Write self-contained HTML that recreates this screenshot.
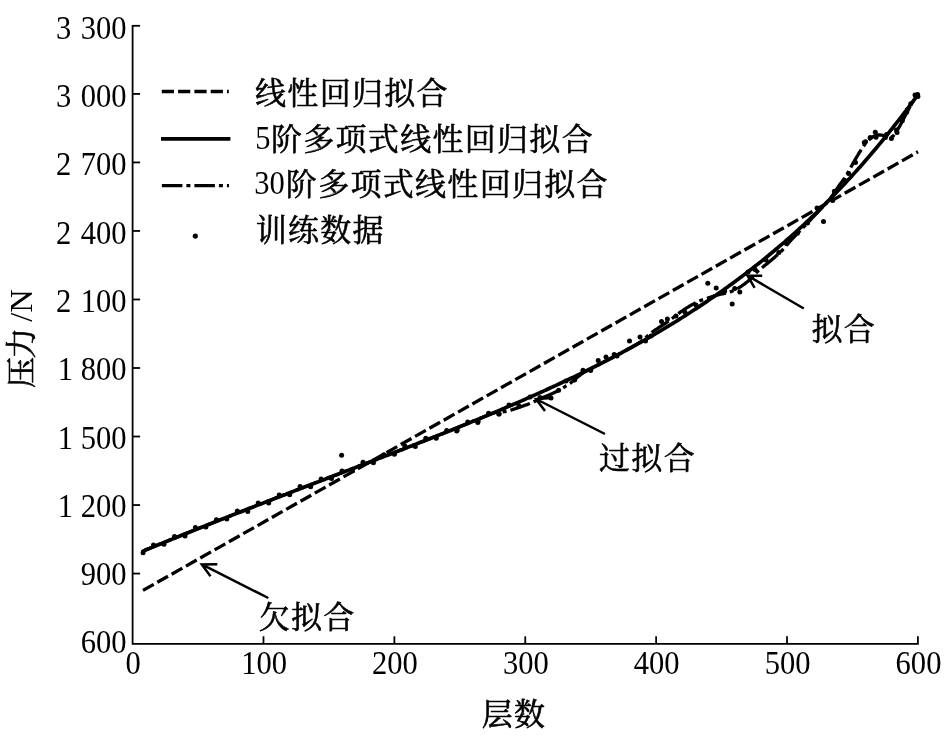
<!DOCTYPE html>
<html><head><meta charset="utf-8"><title>chart</title>
<style>html,body{margin:0;padding:0;background:#fff;}body{width:950px;height:740px;overflow:hidden;font-family:"Liberation Serif",serif;}svg{display:block;will-change:transform}</style>
</head><body><svg role="img" aria-label="拟合对比图" width="950" height="740" viewBox="0 0 950 740" font-family="Liberation Serif, serif" fill="#000"><g stroke="#000" stroke-width="1.8" fill="none" stroke-linecap="butt"><path d="M132.6 24.900000000000002 V643.8 H918.8" stroke-linejoin="miter"/><path d="M132.6 25.80 h7.5"/><path d="M132.6 93.92 h7.5"/><path d="M132.6 162.44 h7.5"/><path d="M132.6 230.96 h7.5"/><path d="M132.6 299.48 h7.5"/><path d="M132.6 368.00 h7.5"/><path d="M132.6 436.52 h7.5"/><path d="M132.6 505.04 h7.5"/><path d="M132.6 573.56 h7.5"/><path d="M263.48 643.8 v-7.5"/><path d="M394.37 643.8 v-7.5"/><path d="M525.25 643.8 v-7.5"/><path d="M656.13 643.8 v-7.5"/><path d="M787.02 643.8 v-7.5"/><path d="M917.90 643.8 v-7.5"/></g><text transform="translate(126.50 653.30) scale(0.926 1)" text-anchor="end" font-size="33">600</text><text transform="translate(126.50 585.04) scale(0.926 1)" text-anchor="end" font-size="33">900</text><text transform="translate(126.50 516.78) scale(0.926 1)" text-anchor="end" font-size="33">1 <tspan dx="0.0">200</tspan></text><text transform="translate(126.50 448.52) scale(0.926 1)" text-anchor="end" font-size="33">1 <tspan dx="0.0">500</tspan></text><text transform="translate(126.50 380.26) scale(0.926 1)" text-anchor="end" font-size="33">1 <tspan dx="0.0">800</tspan></text><text transform="translate(126.50 312.00) scale(0.926 1)" text-anchor="end" font-size="33">2 <tspan dx="1.8">100</tspan></text><text transform="translate(126.50 243.74) scale(0.926 1)" text-anchor="end" font-size="33">2 <tspan dx="1.8">400</tspan></text><text transform="translate(126.50 175.48) scale(0.926 1)" text-anchor="end" font-size="33">2 <tspan dx="1.8">700</tspan></text><text transform="translate(126.50 107.22) scale(0.926 1)" text-anchor="end" font-size="33">3 <tspan dx="1.8">000</tspan></text><text transform="translate(126.50 38.96) scale(0.926 1)" text-anchor="end" font-size="33">3 <tspan dx="1.8">300</tspan></text><text transform="translate(133.20 673.80) scale(0.926 1)" text-anchor="middle" font-size="33">0</text><text transform="translate(264.08 673.80) scale(0.926 1)" text-anchor="middle" font-size="33">100</text><text transform="translate(394.97 673.80) scale(0.926 1)" text-anchor="middle" font-size="33">200</text><text transform="translate(525.85 673.80) scale(0.926 1)" text-anchor="middle" font-size="33">300</text><text transform="translate(656.73 673.80) scale(0.926 1)" text-anchor="middle" font-size="33">400</text><text transform="translate(787.62 673.80) scale(0.926 1)" text-anchor="middle" font-size="33">500</text><text transform="translate(918.50 673.80) scale(0.926 1)" text-anchor="middle" font-size="33">600</text><g fill="none" stroke="#000" stroke-width="3.3"><path d="M143 590.4 L918 151.8" stroke-dasharray="12.3 4.155"/><polyline points="143.0,551.1 144.0,550.7 145.0,550.3 146.0,549.8 147.0,549.4 148.0,549.0 149.0,548.6 150.0,548.2 151.0,547.8 152.0,547.4 153.0,547.0 154.0,546.6 155.0,546.1 156.0,545.7 157.0,545.3 158.0,544.9 159.0,544.5 160.0,544.1 161.0,543.7 162.0,543.3 163.0,542.9 164.0,542.5 165.0,542.0 166.0,541.6 167.0,541.2 168.0,540.8 169.0,540.4 170.0,540.0 171.0,539.6 172.0,539.2 173.0,538.8 174.0,538.4 175.0,538.0 176.0,537.6 177.0,537.2 178.0,536.8 179.0,536.4 180.0,536.0 181.0,535.5 182.0,535.1 183.0,534.7 184.0,534.3 185.0,533.9 186.0,533.5 187.0,533.1 188.0,532.7 189.0,532.3 190.0,531.9 191.0,531.5 192.0,531.1 193.0,530.7 194.0,530.3 195.0,529.9 196.0,529.5 197.0,529.1 198.0,528.7 199.0,528.3 200.0,527.9 201.0,527.5 202.0,527.1 203.0,526.7 204.0,526.3 205.0,525.9 206.0,525.5 207.0,525.1 208.0,524.7 209.0,524.3 210.0,523.9 211.0,523.5 212.0,523.1 213.0,522.7 214.0,522.3 215.0,521.9 216.0,521.5 217.0,521.1 218.0,520.7 219.0,520.3 220.0,519.9 221.0,519.5 222.0,519.1 223.0,518.8 224.0,518.4 225.0,518.0 226.0,517.6 227.0,517.2 228.0,516.8 229.0,516.4 230.0,516.0 231.0,515.6 232.0,515.2 233.0,514.8 234.0,514.4 235.0,514.0 236.0,513.6 237.0,513.2 238.0,512.8 239.0,512.4 240.0,512.1 241.0,511.7 242.0,511.3 243.0,510.9 244.0,510.5 245.0,510.1 246.0,509.7 247.0,509.3 248.0,508.9 249.0,508.5 250.0,508.1 251.0,507.7 252.0,507.4 253.0,507.0 254.0,506.6 255.0,506.2 256.0,505.8 257.0,505.4 258.0,505.0 259.0,504.6 260.0,504.2 261.0,503.8 262.0,503.5 263.0,503.1 264.0,502.7 265.0,502.3 266.0,501.9 267.0,501.5 268.0,501.1 269.0,500.7 270.0,500.4 271.0,500.0 272.0,499.6 273.0,499.2 274.0,498.8 275.0,498.4 276.0,498.0 277.0,497.6 278.0,497.3 279.0,496.9 280.0,496.5 281.0,496.1 282.0,495.7 283.0,495.3 284.0,494.9 285.0,494.5 286.0,494.2 287.0,493.8 288.0,493.4 289.0,493.0 290.0,492.6 291.0,492.2 292.0,491.8 293.0,491.5 294.0,491.1 295.0,490.7 296.0,490.3 297.0,489.9 298.0,489.5 299.0,489.1 300.0,488.8 301.0,488.4 302.0,488.0 303.0,487.6 304.0,487.2 305.0,486.8 306.0,486.5 307.0,486.1 308.0,485.7 309.0,485.3 310.0,484.9 311.0,484.5 312.0,484.2 313.0,483.8 314.0,483.4 315.0,483.0 316.0,482.6 317.0,482.2 318.0,481.8 319.0,481.5 320.0,481.1 321.0,480.7 322.0,480.3 323.0,479.9 324.0,479.5 325.0,479.2 326.0,478.8 327.0,478.4 328.0,478.0 329.0,477.6 330.0,477.2 331.0,476.9 332.0,476.5 333.0,476.1 334.0,475.7 335.0,475.3 336.0,475.0 337.0,474.6 338.0,474.2 339.0,473.8 340.0,473.4 341.0,473.0 342.0,472.7 343.0,472.3 344.0,471.9 345.0,471.5 346.0,471.1 347.0,470.7 348.0,470.4 349.0,470.0 350.0,469.6 351.0,469.2 352.0,468.8 353.0,468.4 354.0,468.1 355.0,467.7 356.0,467.3 357.0,466.9 358.0,466.5 359.0,466.1 360.0,465.8 361.0,465.4 362.0,465.0 363.0,464.6 364.0,464.2 365.0,463.8 366.0,463.4 367.0,463.1 368.0,462.7 369.0,462.3 370.0,461.9 371.0,461.5 372.0,461.1 373.0,460.8 374.0,460.4 375.0,460.0 376.0,459.6 377.0,459.2 378.0,458.8 379.0,458.5 380.0,458.1 381.0,457.7 382.0,457.3 383.0,456.9 384.0,456.5 385.0,456.1 386.0,455.8 387.0,455.4 388.0,455.0 389.0,454.6 390.0,454.2 391.0,453.8 392.0,453.4 393.0,453.0 394.0,452.7 395.0,452.3 396.0,451.9 397.0,451.5 398.0,451.1 399.0,450.7 400.0,450.3 401.0,449.9 402.0,449.6 403.0,449.2 404.0,448.8 405.0,448.4 406.0,448.0 407.0,447.6 408.0,447.2 409.0,446.8 410.0,446.4 411.0,446.1 412.0,445.7 413.0,445.3 414.0,444.9 415.0,444.5 416.0,444.1 417.0,443.7 418.0,443.3 419.0,442.9 420.0,442.5 421.0,442.1 422.0,441.8 423.0,441.4 424.0,441.0 425.0,440.6 426.0,440.2 427.0,439.8 428.0,439.4 429.0,439.0 430.0,438.6 431.0,438.2 432.0,437.8 433.0,437.4 434.0,437.0 435.0,436.6 436.0,436.2 437.0,435.8 438.0,435.4 439.0,435.0 440.0,434.6 441.0,434.2 442.0,433.8 443.0,433.5 444.0,433.1 445.0,432.7 446.0,432.3 447.0,431.9 448.0,431.5 449.0,431.1 450.0,430.7 451.0,430.3 452.0,429.9 453.0,429.5 454.0,429.0 455.0,428.6 456.0,428.2 457.0,427.8 458.0,427.4 459.0,427.0 460.0,426.6 461.0,426.2 462.0,425.8 463.0,425.4 464.0,425.0 465.0,424.6 466.0,424.2 467.0,423.8 468.0,423.4 469.0,423.0 470.0,422.6 471.0,422.2 472.0,421.7 473.0,421.3 474.0,420.9 475.0,420.5 476.0,420.1 477.0,419.7 478.0,419.3 479.0,418.9 480.0,418.5 481.0,418.0 482.0,417.6 483.0,417.2 484.0,416.8 485.0,416.4 486.0,416.0 487.0,415.6 488.0,415.1 489.0,414.7 490.0,414.3 491.0,413.9 492.0,413.5 493.0,413.1 494.0,412.8 495.0,412.5 496.0,412.4 497.0,412.3 498.0,412.1 499.0,412.1 500.0,412.1 501.0,412.0 502.0,412.0 503.0,411.8 504.0,411.7 505.0,411.6 506.0,411.4 507.0,411.2 508.0,410.9 509.0,410.7 510.0,410.4 511.0,410.1 512.0,409.7 513.0,409.4 514.0,409.1 515.0,408.8 516.0,408.4 517.0,408.1 518.0,407.8 519.0,407.4 520.0,407.1 521.0,406.7 522.0,406.4 523.0,406.0 524.0,405.7 525.0,405.3 526.0,404.9 527.0,404.6 528.0,404.2 529.0,403.8 530.0,403.4 531.0,403.0 532.0,402.5 533.0,402.1 534.0,401.6 535.0,401.2 536.0,400.7 537.0,400.2 538.0,399.8 539.0,399.3 540.0,398.9 541.0,398.4 542.0,398.0 543.0,397.6 544.0,397.1 545.0,396.7 546.0,396.3 547.0,395.9 548.0,395.4 549.0,395.0 550.0,394.6 551.0,394.1 552.0,393.7 553.0,393.2 554.0,392.7 555.0,392.3 556.0,391.8 557.0,391.4 558.0,390.8 559.0,390.3 560.0,389.8 561.0,389.2 562.0,388.6 563.0,388.0 564.0,387.3 565.0,386.7 566.0,386.0 567.0,385.4 568.0,384.7 569.0,384.0 570.0,383.3 571.0,382.6 572.0,381.8 573.0,381.0 574.0,380.2 575.0,379.3 576.0,378.5 577.0,377.6 578.0,376.7 579.0,375.9 580.0,375.1 581.0,374.4 582.0,373.7 583.0,373.0 584.0,372.3 585.0,371.7 586.0,371.1 587.0,370.6 588.0,370.0 589.0,369.5 590.0,369.0 591.0,368.5 592.0,368.0 593.0,367.5 594.0,367.0 595.0,366.5 596.0,366.0 597.0,365.5 598.0,365.0 599.0,364.5 600.0,364.0" stroke-dasharray="20.6 4.05 4 4.05" stroke-dashoffset="30.95"/><polyline points="600.0,364.0 601.0,363.5 602.0,362.9 603.0,362.4 604.0,361.9 605.0,361.4 606.0,360.9 607.0,360.4 608.0,359.9 609.0,359.3 610.0,358.8 611.0,358.3 612.0,357.8 613.0,357.3 614.0,356.7 615.0,356.2 616.0,355.7 617.0,355.1 618.0,354.6 619.0,354.1 620.0,353.6 621.0,353.0 622.0,352.5 623.0,351.9 624.0,351.4 625.0,350.9 626.0,350.3 627.0,349.8 628.0,349.2 629.0,348.7 630.0,348.2 631.0,347.6 632.0,347.1 633.0,346.5 634.0,346.0 635.0,345.4 636.0,344.8 637.0,344.3 638.0,343.7 639.0,343.0 640.0,342.4 641.0,341.6 642.0,340.7 643.0,339.9 644.0,339.0 645.0,338.1 646.0,337.3 647.0,336.4 648.0,335.5 649.0,334.6 650.0,333.8 651.0,333.0 652.0,332.2 653.0,331.5 654.0,330.8 655.0,330.0 656.0,329.4 657.0,328.8 658.0,328.1 659.0,327.4 660.0,326.8 661.0,326.1 662.0,325.5 663.0,324.8 664.0,324.1 665.0,323.5 666.0,322.8 667.0,322.1 668.0,321.4 669.0,320.7 670.0,320.0 671.0,319.3 672.0,318.5 673.0,317.8 674.0,317.0 675.0,316.2 676.0,315.4 677.0,314.7 678.0,313.9 679.0,313.2 680.0,312.4 681.0,311.7 682.0,311.0 683.0,310.3 684.0,309.6 685.0,309.0 686.0,308.3 687.0,307.7 688.0,307.1 689.0,306.5 690.0,305.9 691.0,305.3 692.0,304.8 693.0,304.2 694.0,303.7 695.0,303.1 696.0,302.6 697.0,302.1 698.0,301.7 699.0,301.2 700.0,300.8 701.0,300.4 702.0,300.0 703.0,299.6 704.0,299.3 705.0,298.9 706.0,298.6 707.0,298.3 708.0,298.0 709.0,297.6 710.0,297.3 711.0,297.0 712.0,296.6 713.0,296.3 714.0,295.9 715.0,295.6 716.0,295.3" stroke-dasharray="20.6 4.05 4 4.05" stroke-dashoffset="4.69"/><polyline points="716.0,295.3 717.0,295.1 718.0,294.8 719.0,294.6 720.0,294.4 721.0,294.2 722.0,294.0 723.0,293.8 724.0,293.5 725.0,293.3 726.0,293.1 727.0,292.8 728.0,292.6 729.0,292.2 730.0,291.9 731.0,291.6 732.0,291.2 733.0,290.8 734.0,290.3 735.0,289.9 736.0,289.4 737.0,288.9 738.0,288.3 739.0,287.7 740.0,287.1 741.0,286.5 742.0,285.8 743.0,285.0 744.0,284.3 745.0,283.6 746.0,282.8 747.0,282.0 748.0,281.2 749.0,280.3 750.0,279.5 751.0,278.4 752.0,277.4 753.0,276.3 754.0,275.2 755.0,274.1 756.0,273.1 757.0,272.0 758.0,271.1 759.0,270.2 760.0,269.4 761.0,268.6 762.0,267.8 763.0,267.0 764.0,266.1 765.0,265.3 766.0,264.5 767.0,263.7 768.0,262.9 769.0,262.1 770.0,261.2 771.0,260.4 772.0,259.6 773.0,258.7 774.0,257.9 775.0,257.0 776.0,256.1 777.0,255.2 778.0,254.3 779.0,253.4 780.0,252.4 781.0,251.4 782.0,250.5 783.0,249.3 784.0,248.2 785.0,247.1 786.0,245.9 787.0,244.7 788.0,243.6 789.0,242.5 790.0,241.3 791.0,240.2 792.0,239.2 793.0,238.1 794.0,237.0 795.0,236.0 796.0,234.9 797.0,233.9 798.0,232.8 799.0,231.8 800.0,230.8 801.0,229.7 802.0,228.7 803.0,227.7 804.0,226.6 805.0,225.6 806.0,224.5 807.0,223.5 808.0,222.5 809.0,221.4 810.0,220.3 811.0,219.3 812.0,218.2 813.0,217.2 814.0,216.1 815.0,215.1 816.0,214.0 817.0,213.0 818.0,211.9 819.0,210.8 820.0,209.8 821.0,208.7 822.0,207.7 823.0,206.6 824.0,205.6 825.0,204.5 826.0,203.4 827.0,202.3 828.0,201.2 829.0,200.0 830.0,198.8 831.0,197.4 832.0,196.0 833.0,194.6 834.0,193.1 835.0,191.6" stroke-dasharray="20.6 4.05 4 4.05" stroke-dashoffset="10.47"/><polyline points="835.0,191.6 836.0,190.1 837.0,188.6 838.0,187.1 839.0,185.7 840.0,184.3 841.0,183.0 842.0,181.7 843.0,180.3 844.0,178.9 845.0,177.5 846.0,175.9 847.0,174.2 848.0,172.5 849.0,170.7 850.0,168.9 851.0,167.0 852.0,165.2 853.0,163.4 854.0,161.7 855.0,159.9 856.0,158.2 857.0,156.5 858.0,154.9 859.0,153.2 860.0,151.6 861.0,150.0 862.0,148.4 863.0,146.9 864.0,145.5 865.0,144.0 866.0,142.8 867.0,141.7 868.0,140.6 869.0,139.7 870.0,138.8 871.0,138.1 872.0,137.4 873.0,136.8 874.0,136.3 875.0,135.8 876.0,135.5 877.0,135.2 878.0,135.0 879.0,135.0 880.0,134.9 881.0,135.1 882.0,135.2 883.0,135.5 884.0,135.8 885.0,136.2 886.0,136.6 887.0,137.1 888.0,137.3 889.0,137.5 890.0,137.8 891.0,137.3 892.0,136.8 893.0,136.3 894.0,135.0 895.0,133.7 896.0,132.4 897.0,130.8 898.0,129.1 899.0,127.3 900.0,125.6 901.0,123.7 902.0,121.9 903.0,119.9 904.0,118.0 905.0,116.1 906.0,114.1 907.0,112.2 908.0,110.3 909.0,108.5 910.0,106.7 911.0,104.9 912.0,103.2 913.0,101.6 914.0,100.0 915.0,98.4 916.0,96.9 917.0,95.4" stroke-dasharray="20.6 4.05 4 4.05" stroke-dashoffset="3.77"/><polyline points="143.0,551.1 144.5,550.5 146.0,549.8 147.5,549.2 149.0,548.6 150.5,548.0 152.0,547.4 153.5,546.8 155.0,546.1 156.5,545.5 158.0,544.9 159.5,544.3 161.0,543.7 162.5,543.1 164.0,542.5 165.5,541.8 167.0,541.2 168.5,540.6 170.0,540.0 171.5,539.4 173.0,538.8 174.5,538.2 176.0,537.6 177.5,537.0 179.0,536.4 180.5,535.8 182.0,535.1 183.5,534.5 185.0,533.9 186.5,533.3 188.0,532.7 189.5,532.1 191.0,531.5 192.5,530.9 194.0,530.3 195.5,529.7 197.0,529.1 198.5,528.5 200.0,527.9 201.5,527.3 203.0,526.7 204.5,526.1 206.0,525.5 207.5,524.9 209.0,524.3 210.5,523.7 212.0,523.1 213.5,522.5 215.0,521.9 216.5,521.3 218.0,520.7 219.5,520.1 221.0,519.5 222.5,519.0 224.0,518.4 225.5,517.8 227.0,517.2 228.5,516.6 230.0,516.0 231.5,515.4 233.0,514.8 234.5,514.2 236.0,513.6 237.5,513.0 239.0,512.4 240.5,511.9 242.0,511.3 243.5,510.7 245.0,510.1 246.5,509.5 248.0,508.9 249.5,508.3 251.0,507.7 252.5,507.2 254.0,506.6 255.5,506.0 257.0,505.4 258.5,504.8 260.0,504.2 261.5,503.7 263.0,503.1 264.5,502.5 266.0,501.9 267.5,501.3 269.0,500.7 270.5,500.2 272.0,499.6 273.5,499.0 275.0,498.4 276.5,497.8 278.0,497.3 279.5,496.7 281.0,496.1 282.5,495.5 284.0,494.9 285.5,494.4 287.0,493.8 288.5,493.2 290.0,492.6 291.5,492.0 293.0,491.5 294.5,490.9 296.0,490.3 297.5,489.7 299.0,489.1 300.5,488.6 302.0,488.0 303.5,487.4 305.0,486.8 306.5,486.3 308.0,485.7 309.5,485.1 311.0,484.5 312.5,484.0 314.0,483.4 315.5,482.8 317.0,482.2 318.5,481.7 320.0,481.1 321.5,480.5 323.0,479.9 324.5,479.4 326.0,478.8 327.5,478.2 329.0,477.6 330.5,477.1 332.0,476.5 333.5,475.9 335.0,475.3 336.5,474.8 338.0,474.2 339.5,473.6 341.0,473.0 342.5,472.5 344.0,471.9 345.5,471.3 347.0,470.7 348.5,470.2 350.0,469.6 351.5,469.0 353.0,468.4 354.5,467.9 356.0,467.3 357.5,466.7 359.0,466.1 360.5,465.6 362.0,465.0 363.5,464.4 365.0,463.8 366.5,463.3 368.0,462.7 369.5,462.1 371.0,461.5 372.5,461.0 374.0,460.4 375.5,459.8 377.0,459.2 378.5,458.6 380.0,458.1 381.5,457.5 383.0,456.9 384.5,456.3 386.0,455.8 387.5,455.2 389.0,454.6 390.5,454.0 392.0,453.4 393.5,452.9 395.0,452.3 396.5,451.7 398.0,451.1 399.5,450.5 401.0,449.9 402.5,449.4 404.0,448.8 405.5,448.2 407.0,447.6 408.5,447.0 410.0,446.4 411.5,445.9 413.0,445.3 414.5,444.7 416.0,444.1 417.5,443.5 419.0,442.9 420.5,442.3 422.0,441.8 423.5,441.2 425.0,440.6 426.5,440.0 428.0,439.4 429.5,438.8 431.0,438.2 432.5,437.6 434.0,437.0 435.5,436.4 437.0,435.8 438.5,435.2 440.0,434.6 441.5,434.0 443.0,433.5 444.5,432.9 446.0,432.3 447.5,431.7 449.0,431.1 450.5,430.5 452.0,429.9 453.5,429.2 455.0,428.6 456.5,428.0 458.0,427.4 459.5,426.8 461.0,426.2 462.5,425.6 464.0,425.0 465.5,424.4 467.0,423.8 468.5,423.2 470.0,422.6 471.5,421.9 473.0,421.3 474.5,420.7 476.0,420.1 477.5,419.5 479.0,418.9 480.5,418.2 482.0,417.6 483.5,417.0 485.0,416.4 486.5,415.8 488.0,415.1 489.5,414.5 491.0,413.9 492.5,413.3 494.0,412.6 495.5,412.0 497.0,411.4 498.5,410.7 500.0,410.1 501.5,409.5 503.0,408.8 504.5,408.2 506.0,407.5 507.5,406.9 509.0,406.3 510.5,405.6 512.0,405.0 513.5,404.3 515.0,403.7 516.5,403.0 518.0,402.4 519.5,401.7 521.0,401.1 522.5,400.4 524.0,399.7 525.5,399.1 527.0,398.4 528.5,397.8 530.0,397.1 531.5,396.4 533.0,395.8 534.5,395.1 536.0,394.4 537.5,393.8 539.0,393.1 540.5,392.4 542.0,391.7 543.5,391.1 545.0,390.4 546.5,389.7 548.0,389.0 549.5,388.3 551.0,387.6 552.5,386.9 554.0,386.2 555.5,385.6 557.0,384.9 558.5,384.2 560.0,383.5 561.5,382.8 563.0,382.0 564.5,381.3 566.0,380.6 567.5,379.9 569.0,379.2 570.5,378.5 572.0,377.8 573.5,377.1 575.0,376.3 576.5,375.6 578.0,374.9 579.5,374.2 581.0,373.4 582.5,372.7 584.0,372.0 585.5,371.2 587.0,370.5 588.5,369.7 590.0,369.0 591.5,368.3 593.0,367.5 594.5,366.7 596.0,366.0 597.5,365.2 599.0,364.5 600.5,363.7 602.0,362.9 603.5,362.2 605.0,361.4 606.5,360.6 608.0,359.9 609.5,359.1 611.0,358.3 612.5,357.5 614.0,356.7 615.5,355.9 617.0,355.1 618.5,354.4 620.0,353.6 621.5,352.8 623.0,351.9 624.5,351.1 626.0,350.3 627.5,349.5 629.0,348.7 630.5,347.9 632.0,347.1 633.5,346.2 635.0,345.4 636.5,344.6 638.0,343.7 639.5,342.9 641.0,342.1 642.5,341.2 644.0,340.4 645.5,339.5 647.0,338.7 648.5,337.8 650.0,336.9 651.5,336.1 653.0,335.2 654.5,334.3 656.0,333.5 657.5,332.6 659.0,331.7 660.5,330.8 662.0,329.9 663.5,329.0 665.0,328.1 666.5,327.2 668.0,326.3 669.5,325.4 671.0,324.5 672.5,323.6 674.0,322.7 675.5,321.7 677.0,320.8 678.5,319.9 680.0,318.9 681.5,318.0 683.0,317.0 684.5,316.1 686.0,315.1 687.5,314.2 689.0,313.2 690.5,312.3 692.0,311.3 693.5,310.3 695.0,309.3 696.5,308.4 698.0,307.4 699.5,306.4 701.0,305.4 702.5,304.4 704.0,303.4 705.5,302.4 707.0,301.4 708.5,300.3 710.0,299.3 711.5,298.3 713.0,297.3 714.5,296.2 716.0,295.2 717.5,294.1 719.0,293.1 720.5,292.0 722.0,291.0 723.5,289.9 725.0,288.8 726.5,287.8 728.0,286.7 729.5,285.6 731.0,284.5 732.5,283.4 734.0,282.3 735.5,281.2 737.0,280.1 738.5,279.0 740.0,277.8 741.5,276.7 743.0,275.6 744.5,274.4 746.0,273.3 747.5,272.2 749.0,271.0 750.5,269.8 752.0,268.7 753.5,267.5 755.0,266.3 756.5,265.1 758.0,264.0 759.5,262.8 761.0,261.6 762.5,260.4 764.0,259.1 765.5,257.9 767.0,256.7 768.5,255.5 770.0,254.2 771.5,253.0 773.0,251.8 774.5,250.5 776.0,249.2 777.5,248.0 779.0,246.7 780.5,245.4 782.0,244.1 783.5,242.8 785.0,241.6 786.5,240.2 788.0,238.9 789.5,237.6 791.0,236.3 792.5,235.0 794.0,233.6 795.5,232.3 797.0,230.9 798.5,229.6 800.0,228.2 801.5,226.8 803.0,225.5 804.5,224.1 806.0,222.6 807.5,221.2 809.0,219.8 810.5,218.4 812.0,216.9 813.5,215.5 815.0,214.0 816.5,212.6 818.0,211.1 819.5,209.6 821.0,208.1 822.5,206.6 824.0,205.2 825.5,203.6 827.0,202.1 828.5,200.6 830.0,199.1 831.5,197.5 833.0,196.0 834.5,194.5 836.0,192.9 837.5,191.3 839.0,189.8 840.5,188.2 842.0,186.6 843.5,185.0 845.0,183.4 846.5,181.8 848.0,180.1 849.5,178.5 851.0,176.9 852.5,175.2 854.0,173.6 855.5,171.9 857.0,170.2 858.5,168.5 860.0,166.9 861.5,165.2 863.0,163.5 864.5,161.7 866.0,160.0 867.5,158.3 869.0,156.5 870.5,154.8 872.0,153.0 873.5,151.3 875.0,149.5 876.5,147.7 878.0,145.9 879.5,144.1 881.0,142.3 882.5,140.5 884.0,138.6 885.5,136.8 887.0,134.9 888.5,133.1 890.0,131.2 891.5,129.3 893.0,127.4 894.5,125.5 896.0,123.6 897.5,121.7 899.0,119.8 900.5,117.8 902.0,115.9 903.5,113.9 905.0,112.0 906.5,110.0 908.0,108.0 909.5,106.0 911.0,104.0 912.5,102.0 914.0,100.0 915.5,98.0 917.0,95.9" stroke-linecap="round" stroke-width="3.7"/><path d="M161.8 91.5 H228.8" stroke-dasharray="12.2 4.1"/><path d="M161 138.8 H230.4" stroke-width="3.8"/><path d="M161.9 185.7 H229" stroke-dasharray="20.5 4 4 4"/></g><g><circle cx="143.1" cy="552.7" r="2.5"/><circle cx="153.5" cy="544.9" r="2.5"/><circle cx="164.0" cy="544.2" r="2.5"/><circle cx="174.5" cy="536.4" r="2.5"/><circle cx="185.0" cy="536.0" r="2.5"/><circle cx="195.4" cy="527.4" r="2.5"/><circle cx="205.9" cy="527.0" r="2.5"/><circle cx="216.4" cy="519.8" r="2.5"/><circle cx="226.8" cy="518.9" r="2.5"/><circle cx="237.3" cy="510.9" r="2.5"/><circle cx="247.8" cy="511.4" r="2.5"/><circle cx="258.2" cy="503.0" r="2.5"/><circle cx="268.7" cy="503.1" r="2.5"/><circle cx="279.2" cy="494.9" r="2.5"/><circle cx="289.7" cy="494.8" r="2.5"/><circle cx="300.1" cy="486.5" r="2.5"/><circle cx="310.6" cy="486.7" r="2.5"/><circle cx="321.1" cy="479.1" r="2.5"/><circle cx="331.5" cy="478.6" r="2.5"/><circle cx="342.0" cy="471.0" r="2.5"/><circle cx="352.5" cy="470.7" r="2.5"/><circle cx="363.0" cy="462.3" r="2.5"/><circle cx="373.4" cy="462.8" r="2.5"/><circle cx="383.9" cy="454.8" r="2.5"/><circle cx="394.4" cy="454.2" r="2.5"/><circle cx="404.8" cy="446.1" r="2.5"/><circle cx="415.3" cy="446.6" r="2.5"/><circle cx="425.8" cy="438.3" r="2.5"/><circle cx="436.2" cy="438.3" r="2.5"/><circle cx="446.7" cy="430.4" r="2.5"/><circle cx="457.2" cy="429.9" r="2.5"/><circle cx="467.7" cy="422.0" r="2.5"/><circle cx="478.1" cy="421.0" r="2.5"/><circle cx="488.6" cy="413.3" r="2.5"/><circle cx="499.1" cy="413.9" r="2.5"/><circle cx="614.2" cy="354.6" r="2.5"/><circle cx="865.5" cy="141.8" r="2.5"/><circle cx="876.0" cy="137.3" r="2.5"/><circle cx="886.5" cy="134.6" r="2.5"/><circle cx="897.0" cy="132.6" r="2.5"/><circle cx="907.4" cy="109.7" r="2.5"/><circle cx="917.9" cy="96.5" r="2.5"/><circle cx="341.6" cy="455.3" r="2.5"/><circle cx="629.5" cy="341.0" r="2.5"/><circle cx="645.5" cy="341.0" r="2.5"/><circle cx="661.5" cy="321.6" r="2.5"/><circle cx="667.4" cy="319.0" r="2.5"/><circle cx="685.0" cy="312.3" r="2.5"/><circle cx="707.8" cy="283.2" r="2.5"/><circle cx="716.2" cy="287.9" r="2.5"/><circle cx="724.6" cy="291.3" r="2.5"/><circle cx="732.2" cy="303.9" r="2.5"/><circle cx="739.8" cy="292.1" r="2.5"/><circle cx="734.7" cy="288.4" r="2.5"/><circle cx="755.0" cy="269.4" r="2.5"/><circle cx="778.8" cy="252.6" r="2.5"/><circle cx="786.4" cy="243.4" r="2.5"/><circle cx="797.4" cy="233.3" r="2.5"/><circle cx="807.5" cy="223.0" r="2.5"/><circle cx="823.5" cy="221.5" r="2.5"/><circle cx="832.7" cy="200.4" r="2.5"/><circle cx="834.4" cy="191.2" r="2.5"/><circle cx="844.5" cy="180.2" r="2.5"/><circle cx="848.7" cy="173.5" r="2.5"/><circle cx="855.5" cy="162.5" r="2.5"/><circle cx="456.7" cy="430.9" r="2.5"/><circle cx="477.8" cy="422.5" r="2.5"/><circle cx="498.8" cy="414.1" r="2.5"/><circle cx="551.0" cy="398.1" r="2.5"/><circle cx="558.6" cy="390.2" r="2.5"/><circle cx="574.6" cy="380.1" r="2.5"/><circle cx="583.0" cy="370.3" r="2.5"/><circle cx="590.6" cy="370.6" r="2.5"/><circle cx="598.2" cy="360.5" r="2.5"/><circle cx="509.0" cy="405.0" r="2.5"/><circle cx="519.0" cy="406.0" r="2.5"/><circle cx="530.0" cy="397.0" r="2.5"/><circle cx="540.0" cy="397.5" r="2.5"/><circle cx="566.0" cy="381.0" r="2.5"/><circle cx="606.0" cy="357.0" r="2.5"/><circle cx="617.0" cy="356.0" r="2.5"/><circle cx="640.0" cy="337.0" r="2.5"/><circle cx="651.0" cy="336.0" r="2.5"/><circle cx="676.0" cy="316.0" r="2.5"/><circle cx="696.0" cy="305.0" r="2.5"/><circle cx="748.0" cy="272.0" r="2.5"/><circle cx="766.0" cy="260.0" r="2.5"/><circle cx="817.0" cy="208.0" r="2.5"/><circle cx="864.3" cy="142.6" r="2.5"/><circle cx="870.2" cy="137.6" r="2.5"/><circle cx="875.3" cy="132.2" r="2.5"/><circle cx="885.4" cy="137.6" r="2.5"/><circle cx="891.4" cy="138.4" r="2.5"/><circle cx="896.4" cy="130.0" r="2.5"/><circle cx="902.3" cy="120.7" r="2.5"/><circle cx="906.6" cy="112.2" r="2.5"/><circle cx="910.8" cy="103.8" r="2.5"/><circle cx="915.0" cy="95.0" r="2.5"/><circle cx="917.6" cy="94.6" r="2.5"/><circle cx="195.3" cy="236.1" r="2.6"/></g><path d="M268.3 598.0 L201.8 564.4 M217.3 564.3 L201.8 564.4 L210.5 576.3" fill="none" stroke="#000" stroke-width="2.5" stroke-linejoin="miter"/><path d="M605 434 L536 399 M552 398 L536 399 L545 411" fill="none" stroke="#000" stroke-width="2.5" stroke-linejoin="miter"/><path d="M803.8 308.5 L747.6 275.7 M762.2 275.8 L747.6 275.7 L754.6 287.8" fill="none" stroke="#000" stroke-width="2.5" stroke-linejoin="miter"/><text x="255.05" y="104.30" font-size="31" letter-spacing="1.3" font-family="&quot;Liberation Serif&quot;, &quot;Noto Serif CJK SC&quot;, serif" fill="#000" stroke="#000" stroke-width="0.6" stroke-linejoin="round">线性回归拟合</text><text transform="translate(255.20 149.00) scale(0.926 1)" text-anchor="start" font-size="33">5</text><text x="270.95" y="149.50" font-size="31" letter-spacing="1.3" font-family="&quot;Liberation Serif&quot;, &quot;Noto Serif CJK SC&quot;, serif" fill="#000" stroke="#000" stroke-width="0.6" stroke-linejoin="round">阶多项式线性回归拟合</text><text transform="translate(254.30 194.40) scale(0.926 1)" text-anchor="start" font-size="33">30</text><text x="285.85" y="195.00" font-size="31" letter-spacing="1.3" font-family="&quot;Liberation Serif&quot;, &quot;Noto Serif CJK SC&quot;, serif" fill="#000" stroke="#000" stroke-width="0.6" stroke-linejoin="round">阶多项式线性回归拟合</text><text x="255.65" y="241.00" font-size="31" letter-spacing="1.3" font-family="&quot;Liberation Serif&quot;, &quot;Noto Serif CJK SC&quot;, serif" fill="#000" stroke="#000" stroke-width="0.6" stroke-linejoin="round">训练数据</text><text x="258.65" y="628.20" font-size="31" letter-spacing="1.3" font-family="&quot;Liberation Serif&quot;, &quot;Noto Serif CJK SC&quot;, serif" fill="#000" stroke="#000" stroke-width="0.6" stroke-linejoin="round">欠拟合</text><text x="599.05" y="469.00" font-size="31" letter-spacing="1.3" font-family="&quot;Liberation Serif&quot;, &quot;Noto Serif CJK SC&quot;, serif" fill="#000" stroke="#000" stroke-width="0.6" stroke-linejoin="round">过拟合</text><text x="811.45" y="340.00" font-size="31" letter-spacing="1.3" font-family="&quot;Liberation Serif&quot;, &quot;Noto Serif CJK SC&quot;, serif" fill="#000" stroke="#000" stroke-width="0.6" stroke-linejoin="round">拟合</text><text x="481.65" y="725.00" font-size="31" letter-spacing="1.3" font-family="&quot;Liberation Serif&quot;, &quot;Noto Serif CJK SC&quot;, serif" fill="#000" stroke="#000" stroke-width="0.6" stroke-linejoin="round">层数</text><g transform="translate(32 387) rotate(-90)"><text x="-0.90" y="0" font-size="31" letter-spacing="-1.8" font-family="&quot;Liberation Serif&quot;, &quot;Noto Serif CJK SC&quot;, serif" fill="#000" stroke="#000" stroke-width="0.6" stroke-linejoin="round">压力</text><text transform="translate(65.3 0)" font-size="32.5">/N</text></g></svg></body></html>
